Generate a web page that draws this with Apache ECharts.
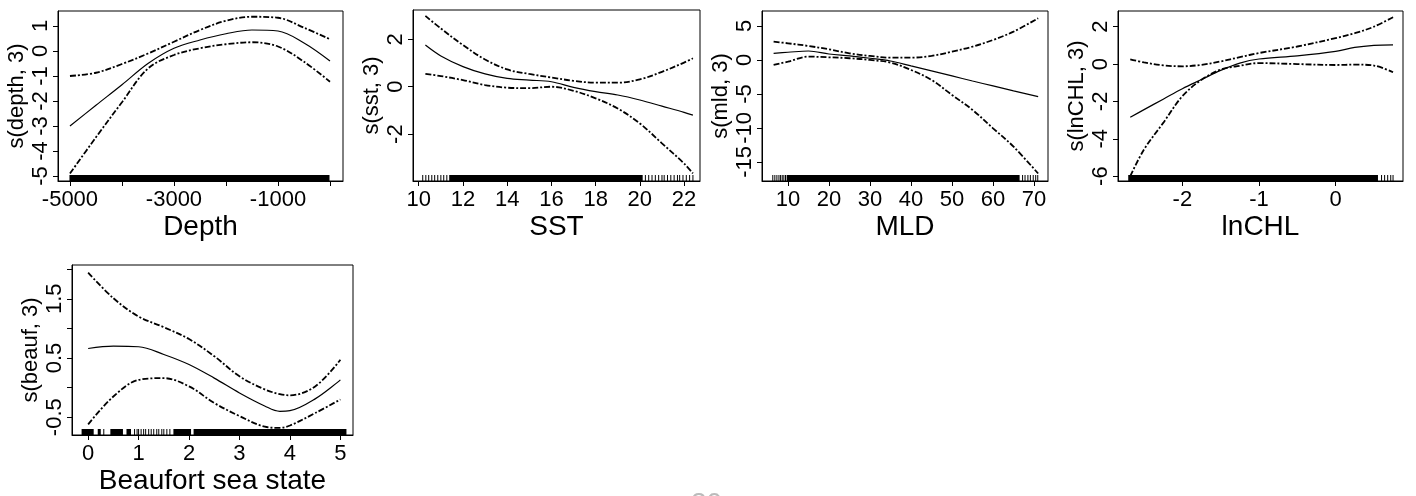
<!DOCTYPE html>
<html><head><meta charset="utf-8">
<script src="https://cdn.jsdelivr.net/npm/echarts@6/dist/echarts.min.js"></script>
<style>html,body{margin:0;padding:0;background:#fff}#c{width:1416px;height:496px}</style>
</head><body><div id="c"></div>
<script>
// ---- Depth ----
const depthX     = [-5000, -4500, -4000, -3500, -3000, -2500, -2000, -1500, -1000, -500, 0];
const depthFit   = [-3.0, -2.17, -1.35, -0.5, 0.11, 0.44, 0.69, 0.84, 0.8, 0.32, -0.4];
const depthUpper = [-1.0, -0.87, -0.52, -0.1, 0.37, 0.84, 1.21, 1.37, 1.33, 0.93, 0.47];
const depthLower = [-4.9, -3.45, -2.05, -0.7, -0.16, 0.11, 0.27, 0.35, 0.18, -0.43, -1.23];
const depthRug   = [[-5000, 0]];
const depthXTicks = [-5000, -4000, -3000, -2000, -1000, 0];
const depthXLabels = [-5000, -3000, -1000];
const depthYTicks = [-5, -4, -3, -2, -1, 0, 1];

// ---- SST ----
const sstX     = [10.3, 11, 12, 13, 14, 15, 16, 17, 18, 19, 20, 21, 22, 22.4];
const sstFit   = [1.76, 1.3, 0.85, 0.54, 0.35, 0.28, 0.21, -0.03, -0.21, -0.35, -0.56, -0.82, -1.08, -1.2];
const sstUpper = [2.99, 2.46, 1.76, 1.15, 0.73, 0.54, 0.39, 0.25, 0.17, 0.17, 0.31, 0.63, 1.02, 1.2];
const sstLower = [0.54, 0.45, 0.28, 0.07, -0.04, -0.06, 0.0, -0.17, -0.49, -0.92, -1.55, -2.39, -3.24, -3.66];
const sstRug   = [[10.18,10.18],[10.32,10.32],[10.45,10.45],[10.59,10.59],[10.72,10.72],[10.86,10.86],[11.0,11.0],[11.13,11.13],[11.27,11.27],
                  [11.4, 20.15],
                  [20.25,20.25],[20.4,20.4],[20.55,20.55],[20.7,20.7],[20.85,20.85],[21.0,21.0],[21.1,21.1],[21.25,21.25],[21.4,21.4],[21.55,21.55],[21.7,21.7],[21.8,21.8],[21.95,21.95],[22.1,22.1],[22.25,22.25],[22.4,22.4]];
const sstXTicks = [10, 12, 14, 16, 18, 20, 22];
const sstYTicks = [-2, 0, 2];

// ---- MLD ----
const mldX     = [6.5, 10, 15, 20, 25, 30, 35, 40, 45, 50, 55, 60, 65, 71];
const mldFit   = [0.98, 1.13, 1.32, 0.88, 0.59, 0.25, -0.15, -0.88, -1.6, -2.35, -3.1, -3.82, -4.55, -5.39];
const mldUpper = [2.7, 2.45, 2.06, 1.57, 0.98, 0.59, 0.34, 0.34, 0.59, 1.23, 1.96, 2.94, 4.17, 6.13];
const mldLower = [-0.74, -0.25, 0.49, 0.39, 0.25, 0.0, -0.39, -1.47, -2.94, -5.15, -7.35, -10.05, -12.75, -16.7];
const mldRug   = [[6.3,6.3],[6.8,6.8],[7.3,7.3],[7.8,7.8],[8.2,8.2],[8.6,8.6],[9.0,9.0],[9.4,9.4],
                  [9.8, 66.6],
                  [67.2,67.2],[67.8,67.8],[68.5,68.5],[69.1,69.1],[69.8,69.8],[70.4,70.4],[70.9,70.9]];
const mldXTicks = [10, 20, 30, 40, 50, 60, 70];
const mldYTicks = [-15, -10, -5, 0, 5];

// ---- lnCHL ----
const chlX     = [-2.68, -2.5, -2.25, -2, -1.75, -1.5, -1.25, -1, -0.5, 0, 0.25, 0.5, 0.75];
const chlFit   = [-2.85, -2.44, -1.88, -1.32, -0.83, -0.34, 0.05, 0.27, 0.44, 0.68, 0.89, 1.0, 1.03];
const chlUpper = [0.25, 0.09, -0.07, -0.12, -0.04, 0.14, 0.37, 0.59, 0.94, 1.39, 1.65, 2.0, 2.51];
const chlLower = [-6.0, -4.57, -3.15, -1.72, -0.84, -0.3, -0.09, 0.05, 0.0, -0.05, -0.03, -0.08, -0.44];
const chlRug   = [[-2.7, 0.56],[0.6,0.6],[0.64,0.64],[0.68,0.68],[0.72,0.72],[0.75,0.75]];
const chlXTicks = [-2, -1, 0];
const chlYTicks = [-6, -4, -2, 0, 2];

// ---- Beaufort ----
const beaufX     = [0, 0.5, 1, 1.5, 2, 2.5, 3, 3.5, 3.8, 4, 4.5, 5];
const beaufFit   = [0.66, 0.70, 0.69, 0.56, 0.39, 0.16, -0.09, -0.31, -0.40, -0.39, -0.19, 0.13];
const beaufUpper = [1.94, 1.51, 1.2, 1.02, 0.82, 0.53, 0.19, -0.03, -0.11, -0.13, 0.02, 0.47];
const beaufLower = [-0.62, -0.15, 0.13, 0.16, 0.02, -0.26, -0.48, -0.66, -0.68, -0.64, -0.43, -0.2];
const beaufRug   = [[-0.12, 0.12],[0.2,0.26],[0.31,0.31],[0.45,0.7],[0.77,0.86],
                    [0.92,0.92],[0.97,0.97],[1.0,1.0],[1.05,1.05],[1.1,1.1],[1.14,1.14],[1.2,1.2],[1.25,1.25],[1.3,1.3],[1.36,1.36],[1.4,1.4],[1.46,1.46],[1.5,1.5],[1.56,1.56],[1.62,1.62],
                    [1.7, 2.05],[2.1, 5.13]];
const beaufXTicks = [0, 1, 2, 3, 4, 5];
const beaufYTicks = [-0.5, 0, 0.5, 1, 1.5, 2];
const beaufYLabels = [-0.5, 0.5, 1.5];

const FONT = 'Liberation Sans, Arial, sans-serif';

const panels = [
  {grid:{left:58, top:11, width:285, height:170}, xr:[-5230,250], yr:[-5.2,1.6],
   xt:depthXTicks, xl:depthXLabels, yt:depthYTicks, yl:depthYTicks, xName:'Depth', yName:'s(depth, 3)',
   x:depthX, fit:depthFit, up:depthUpper, lo:depthLower, rug:depthRug},
  {grid:{left:413, top:10, width:287, height:171}, xr:[9.74,22.72], yr:[-3.98,3.24],
   xt:sstXTicks, xl:sstXTicks, yt:sstYTicks, yl:sstYTicks, xName:'SST', yName:'s(sst, 3)',
   x:sstX, fit:sstFit, up:sstUpper, lo:sstLower, rug:sstRug},
  {grid:{left:762, top:11, width:286, height:170}, xr:[3.67,73.4], yr:[-17.8,7.2],
   xt:mldXTicks, xl:mldXTicks, yt:mldYTicks, yl:mldYTicks, xName:'MLD', yName:'s(mld, 3)',
   x:mldX, fit:mldFit, up:mldUpper, lo:mldLower, rug:mldRug},
  {grid:{left:1118, top:11, width:285, height:170}, xr:[-2.84,0.88], yr:[-6.26,2.84],
   xt:chlXTicks, xl:chlXTicks, yt:chlYTicks, yl:chlYTicks, xName:'lnCHL', yName:'s(lnCHL, 3)',
   x:chlX, fit:chlFit, up:chlUpper, lo:chlLower, rug:chlRug},
  {grid:{left:72, top:265, width:281, height:170}, xr:[-0.32,5.25], yr:[-0.8,2.07],
   xt:beaufXTicks, xl:beaufXTicks, yt:beaufYTicks, yl:beaufYLabels, xName:'Beaufort sea state', yName:'s(beauf, 3)',
   x:beaufX, fit:beaufFit, up:beaufUpper, lo:beaufLower, rug:beaufRug}
];

const grids = [], xAxes = [], yAxes = [], series = [];
function zip(xs, ys){ return xs.map((v,i)=>[v, ys[i]]); }
function plain(v){ return String(v); }

panels.forEach((p, i) => {
  grids.push(Object.assign({show:true, borderColor:'#000', borderWidth:1, backgroundColor:'transparent'}, p.grid));
  xAxes.push({
    gridIndex:i, type:'value', min:p.xr[0], max:p.xr[1],
    axisLine:{show:true, onZero:false, lineStyle:{color:'#000', width:1}},
    axisTick:{show:true, inside:false, length:5, customValues:p.xt, lineStyle:{color:'#000', width:1}},
    axisLabel:{show:true, customValues:p.xl, formatter:plain, color:'#000', fontSize:22, fontFamily:FONT, margin:8, hideOverlap:false},
    splitLine:{show:false},
    name:p.xName, nameLocation:'middle', nameGap:32,
    nameTextStyle:{color:'#000', fontSize:28, fontFamily:FONT}
  });
  yAxes.push({
    gridIndex:i, type:'value', min:p.yr[0], max:p.yr[1],
    axisLine:{show:true, onZero:false, lineStyle:{color:'#000', width:1}},
    axisTick:{show:true, inside:false, length:5, customValues:p.yt, lineStyle:{color:'#000', width:1}},
    axisLabel:{show:true, customValues:p.yl, formatter:plain, rotate:90, color:'#000', fontSize:22, fontFamily:FONT, margin:6, hideOverlap:false},
    splitLine:{show:false},
    name:p.yName, nameLocation:'middle', nameGap:30, nameRotate:90,
    nameTextStyle:{color:'#000', fontSize:22, fontFamily:FONT}
  });
  const yMin = p.yr[0];
  series.push({
    type:'custom', xAxisIndex:i, yAxisIndex:i, silent:true, clip:false,
    dimensions:['x0','x1'], encode:{x:[0,1]},
    data:p.rug,
    renderItem:function(params, api){
      const a = api.coord([api.value(0), yMin]);
      const b = api.coord([api.value(1), yMin]);
      const w = Math.max(b[0]-a[0], 1);
      return {type:'rect', shape:{x:a[0]-0.5, y:a[1]-6, width:w, height:6}, style:{fill:'#000'}};
    }
  });
  series.push({type:'line', xAxisIndex:i, yAxisIndex:i, data:zip(p.x, p.fit), smooth:0.35, symbol:'none',
    lineStyle:{color:'#000', width:1.2, type:'solid'}, silent:true});
  series.push({type:'line', xAxisIndex:i, yAxisIndex:i, data:zip(p.x, p.up), smooth:0.35, symbol:'none',
    lineStyle:{color:'#000', width:1.8, type:[6,2,2,2]}, silent:true});
  series.push({type:'line', xAxisIndex:i, yAxisIndex:i, data:zip(p.x, p.lo), smooth:0.35, symbol:'none',
    lineStyle:{color:'#000', width:1.8, type:[6,2,2,2]}, silent:true});
});

const chart = echarts.init(document.getElementById('c'), null, {renderer:'canvas'});
chart.setOption({
  animation:false,
  backgroundColor:'#fff',
  grid:grids, xAxis:xAxes, yAxis:yAxes, series:series,
  graphic:[{type:'text', left:691, top:490, style:{text:'20', font:'28px Liberation Sans', fill:'#bbb'}}]
});
</script>
</body></html>
